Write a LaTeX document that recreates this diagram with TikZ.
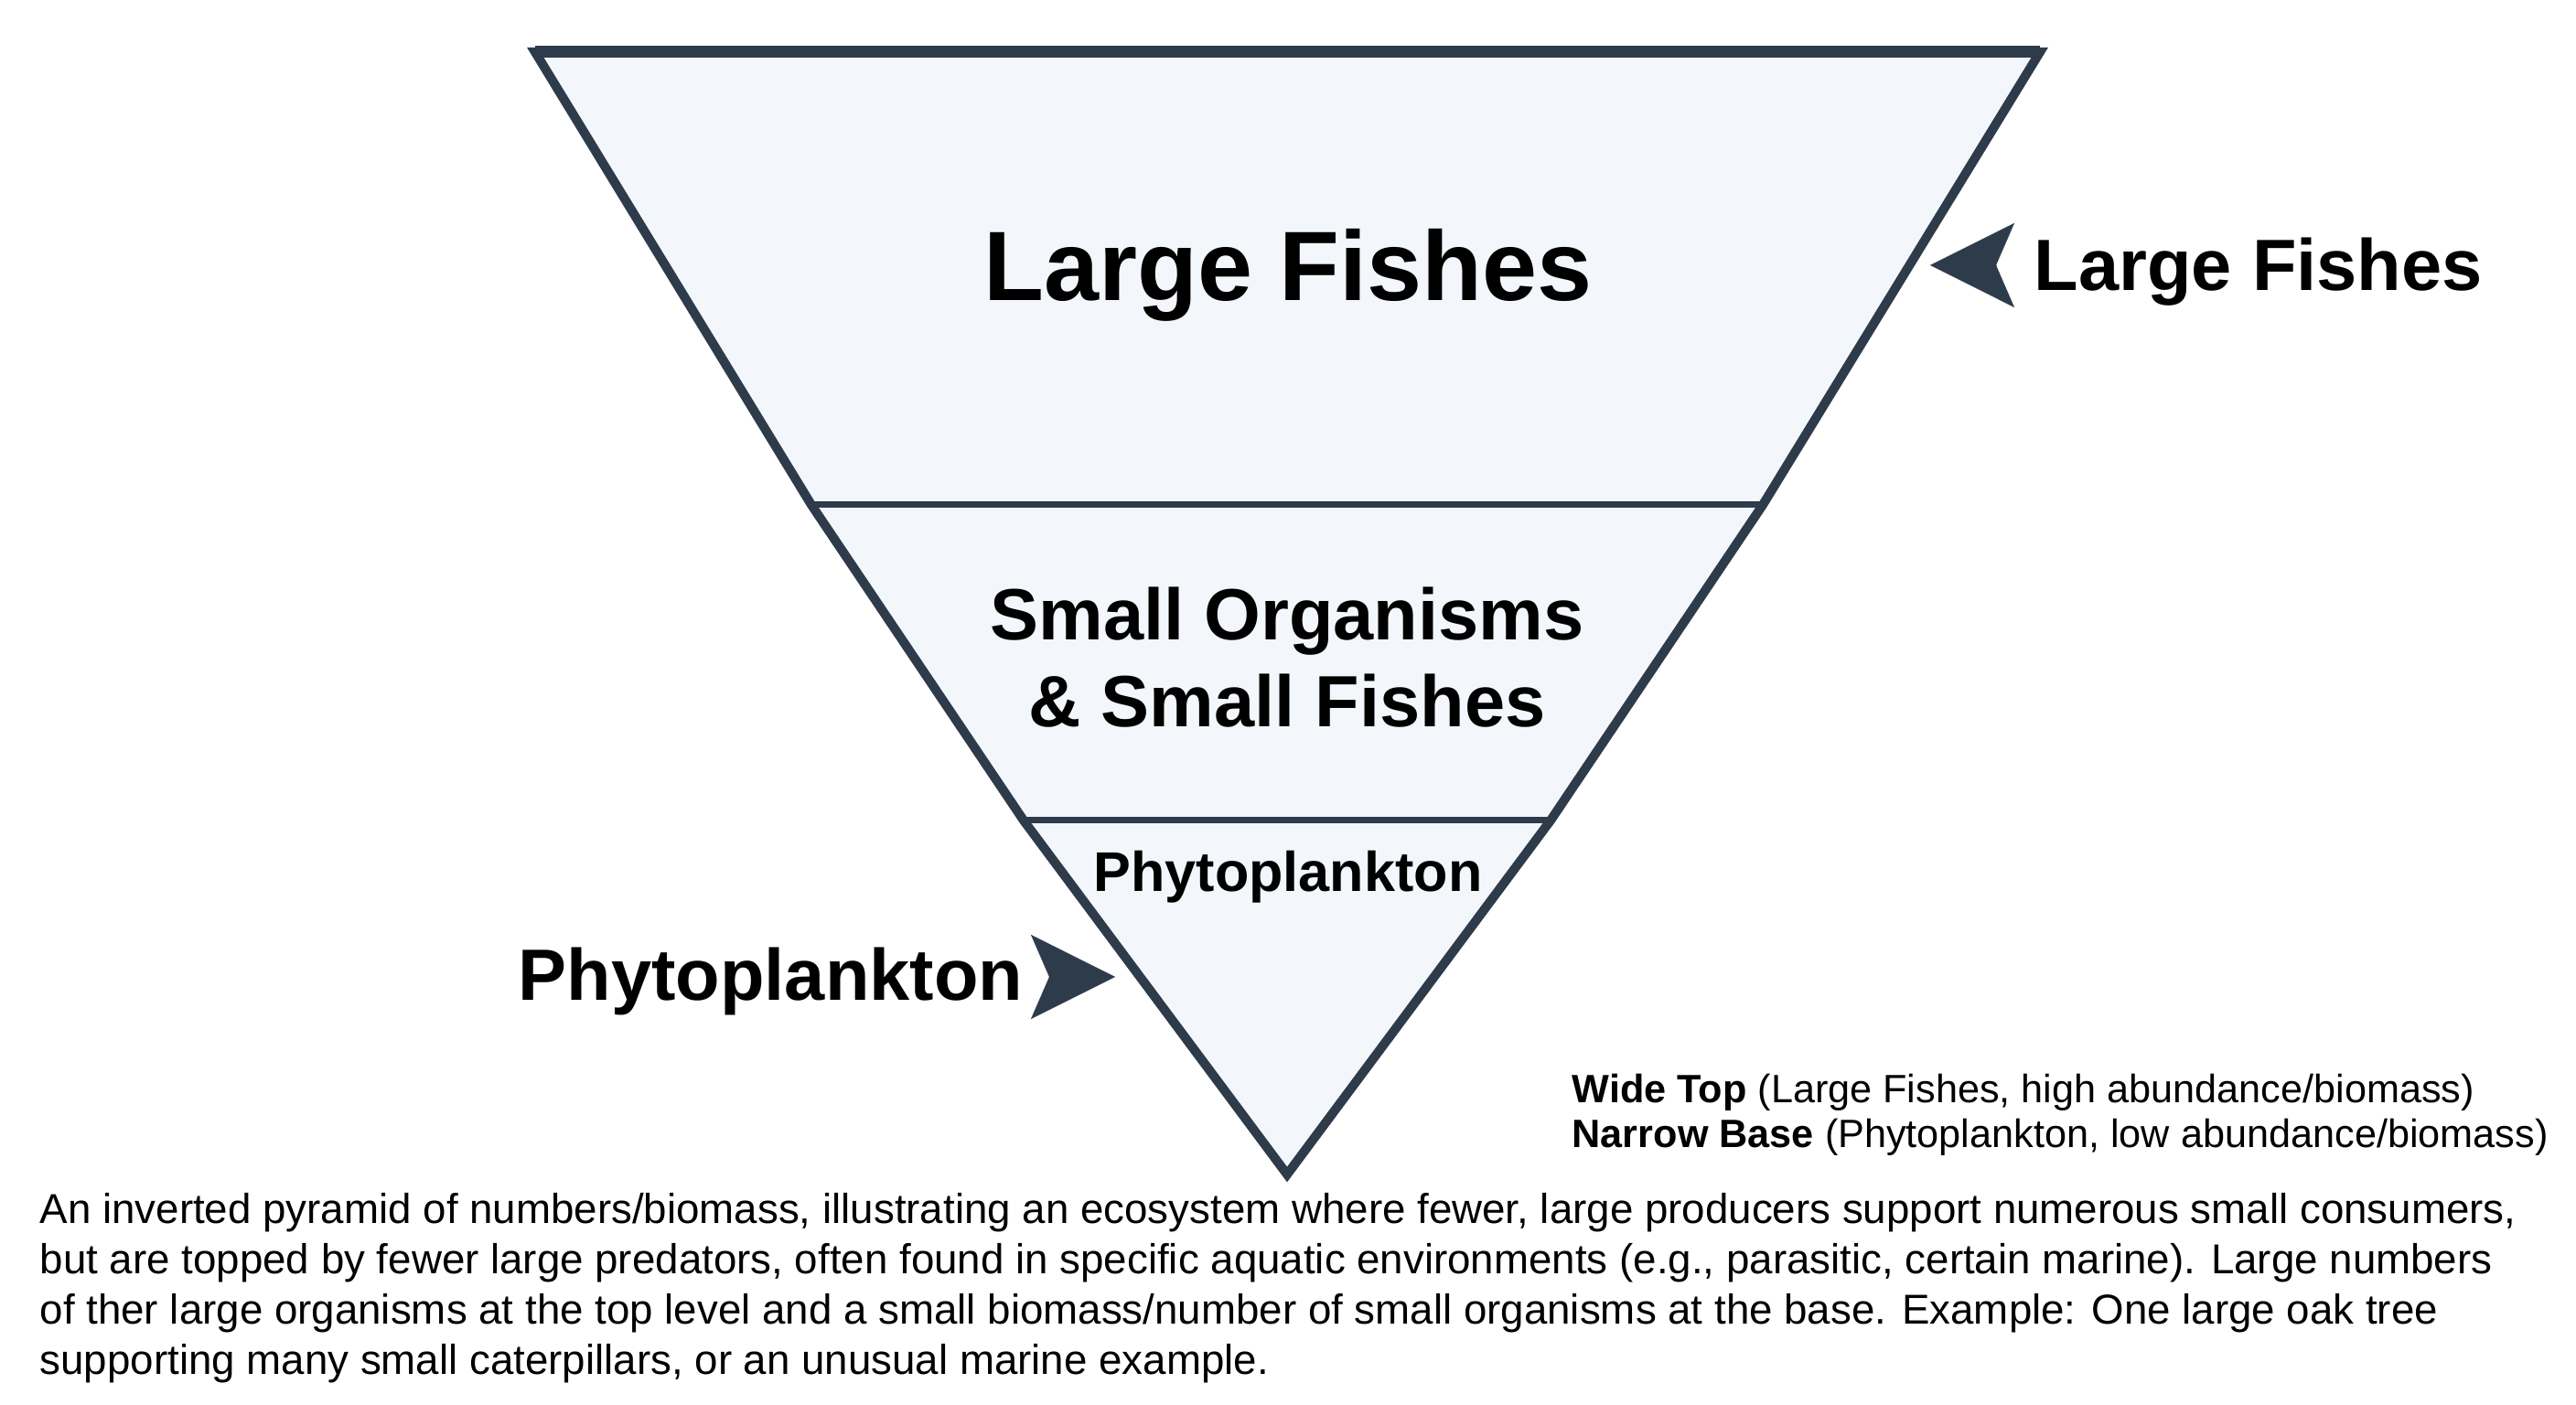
\documentclass[tikz,border=0pt]{standalone}
\usepackage{fontspec}
\setmainfont{Liberation Sans}
\usetikzlibrary{arrows.meta}
\definecolor{slate}{HTML}{2E3B4B}
\definecolor{tierfill}{HTML}{F3F7FB}

\begin{document}
\begin{tikzpicture}[
    tier/.style={draw=slate, line width=2pt},
    big/.style={font=\fontsize{30.7}{36}\selectfont\bfseries, inner sep=0pt},
    mid/.style={font=\fontsize{22.6}{27.3}\selectfont\bfseries, inner sep=0pt},
    pointer/.style={slate, line width=0.05pt, -{Stealth[length=9.2mm, width=9.2mm, inset=2mm]}}
  ]
    \useasboundingbox (0,0) rectangle (28.16,15.36);
    % Pyramid
    \coordinate (tl) at (5.85,14.79);
    \coordinate (tr) at (22.30,14.79);
    \coordinate (l1) at (8.87,9.84);
    \coordinate (r1) at (19.27,9.84);
    \coordinate (l2) at (11.19,6.39);
    \coordinate (r2) at (16.95,6.39);
    \coordinate (apex) at (14.07,2.52);
    \filldraw[fill=tierfill, draw=slate, line width=2.85pt, line join=miter]
      (tl) -- (tr) -- (r1) -- (r2) -- (apex) -- (l2) -- (l1) -- cycle;
    \draw[slate, line width=3.7pt] (tl) -- (tr);
    \draw[tier] (l1) -- (r1);
    \draw[tier] (l2) -- (r2);

    % Nodes
    \node[big, anchor=base] (fishes) at (14.08,12.07) {Large Fishes};
    \node[mid, anchor=base, align=center] (small) at (14.07,7.41) {Small Organisms\\\& Small Fishes};
    \node[font=\fontsize{17.4}{21}\selectfont\bfseries, inner sep=0pt, anchor=base] (phyto) at (14.08,5.61) {Phytoplankton};
    \node[mid, anchor=base west] (lblR) at (22.23,12.18) {Large Fishes};
    \node[mid, anchor=base east] (lblL) at (11.19,4.42) {Phytoplankton};
    \coordinate (ptrR) at (21.10,12.46);
    \coordinate (ptrL) at (12.19,4.68);
    \coordinate (backR) at (21.82,12.46);
    \coordinate (backL) at (11.47,4.68);
    \draw[pointer] (backR) -- (ptrR);
    \draw[pointer] (backL) -- (ptrL);

    % Notes
    \node[anchor=base west, align=left, inner sep=0pt, font=\fontsize{12.3}{13.95}\selectfont] (legend) at (17.18,2.81)
      {\textbf{Wide Top} (Large Fishes, high abundance/biomass)\\\textbf{Narrow Base} (Phytoplankton, low abundance/biomass)};
    \node[anchor=base west, align=left, inner sep=0pt, font=\fontsize{13}{15.65}\selectfont] (caption) at (0.43,0.33)
      {An inverted pyramid of numbers/biomass, illustrating an ecosystem where fewer, large producers support numerous small consumers,\\
       but are topped by fewer large predators, often found in specific aquatic environments (e.g., parasitic, certain marine). Large numbers\\
       of ther large organisms at the top level and a small biomass/number of small organisms at the base. Example: One large oak tree\\
       supporting many small caterpillars, or an unusual marine example.};
  \end{tikzpicture}
\end{document}
